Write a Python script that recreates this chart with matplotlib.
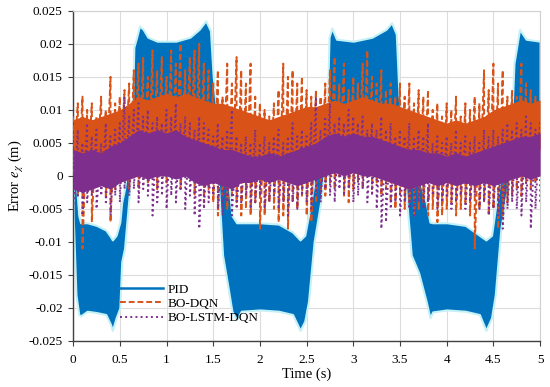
import numpy as np
import matplotlib
matplotlib.use('Agg')
import matplotlib.pyplot as plt
from matplotlib.lines import Line2D
from matplotlib.ticker import FormatStrFormatter

plt.rcParams['font.family'] = ['Liberation Serif', 'DejaVu Serif']
plt.rcParams['mathtext.fontset'] = 'stix'

# PID error band (envelope)
t_pid = [0.00, 0.03, 0.06, 0.08, 0.15, 0.25, 0.35, 0.40, 0.42, 0.46, 0.50, 0.52, 0.55, 0.60, 0.63,
         0.65, 0.68, 0.71, 0.75, 0.80, 0.90, 1.10, 1.25, 1.35, 1.42, 1.47, 1.50, 1.55, 1.60,
         1.66, 1.70, 1.75, 1.80, 2.00, 2.20, 2.35, 2.43, 2.48, 2.52, 2.58, 2.65, 2.72, 2.74,
         2.77, 2.82, 3.00, 3.20, 3.35, 3.41, 3.46, 3.49, 3.55, 3.62, 3.70, 3.78, 3.82, 3.85,
         4.00, 4.20, 4.35, 4.42, 4.48, 4.52, 4.58, 4.65, 4.70, 4.72, 4.78, 4.85, 5.00]
pid_lo = [-0.006, -0.018, -0.0210, -0.0212, -0.0205, -0.0207, -0.0210, -0.0225, -0.0234, -0.0215,
          -0.020, -0.013, -0.011, -0.003, 0.002,
          0.006, 0.007, 0.0075, 0.0075, 0.007, 0.0068, 0.0068, 0.007, 0.0075, 0.008, 0.0075,
          0.005, 0.0, -0.012, -0.017, -0.0205, -0.0218, -0.0205, -0.0203, -0.0205, -0.021,
          -0.0234, -0.022, -0.019, -0.010, -0.004, 0.004, 0.007,
          0.0075, 0.007, 0.0068, 0.007, 0.0075, 0.008, 0.0075, 0.005, 0.0, -0.012, -0.0147,
          -0.019, -0.0215, -0.0206, -0.0203, -0.0205, -0.021, -0.0234, -0.0215, -0.018,
          -0.008, -0.002, 0.003, 0.006, 0.0075, 0.007, 0.007]
pid_hi = [0.004, 0.0, -0.006, -0.0071, -0.0071, -0.0075, -0.0082, -0.0092, -0.0097, -0.009,
          -0.007, -0.004, -0.002, 0.004, 0.008,
          0.0195, 0.021, 0.0227, 0.0222, 0.021, 0.0204, 0.0204, 0.021, 0.0222, 0.0235, 0.022,
          0.015, 0.008, 0.004, 0.0, -0.006, -0.0071, -0.0071, -0.0071, -0.0073, -0.0085,
          -0.0097, -0.009, -0.006, -0.001, 0.004, 0.010, 0.021,
          0.0224, 0.0207, 0.0204, 0.021, 0.0222, 0.0232, 0.0215, 0.012, 0.007, 0.003, 0.0,
          -0.004, -0.007, -0.0071, -0.0071, -0.0075, -0.009, -0.0097, -0.009, -0.005,
          0.0, 0.005, 0.010, 0.017, 0.0222, 0.0207, 0.0204]

# BO-DQN / BO-LSTM-DQN: dense core band every 0.1 s
t_core = np.arange(0, 5.001, 0.1)
dqn_core_lo = [0.002, 0.001, 0.002, 0.003, 0.002, 0.003, 0.003, 0.004, 0.004, 0.005,
               0.004, 0.005, 0.004, 0.004, 0.003, 0.003, 0.002, 0.002, 0.001, 0.001,
               0.000, 0.001, 0.000, 0.001, 0.001, 0.002, 0.002, 0.003, 0.004, 0.004,
               0.003, 0.004, 0.004, 0.003, 0.003, 0.002, 0.002, 0.001, 0.001, 0.000,
               0.001, 0.000, 0.001, 0.000, 0.001, 0.002, 0.002, 0.003, 0.004, 0.004, 0.004]
dqn_core_hi = [0.0085, 0.009, 0.0085, 0.009, 0.0095, 0.010, 0.011, 0.012, 0.0115, 0.012,
               0.0125, 0.012, 0.0125, 0.012, 0.0115, 0.011, 0.011, 0.0105, 0.010, 0.0095,
               0.009, 0.0085, 0.009, 0.0095, 0.010, 0.0105, 0.0105, 0.011, 0.0115, 0.011,
               0.0115, 0.012, 0.0115, 0.011, 0.011, 0.0105, 0.010, 0.0095, 0.009, 0.0085,
               0.008, 0.0085, 0.008, 0.0085, 0.009, 0.010, 0.0105, 0.011, 0.0115, 0.011, 0.0115]
lstm_core_lo = [-0.002, -0.0025, -0.002, -0.0015, -0.002, -0.001, -0.0005, 0.000, -0.0005, 0.000,
                0.000, -0.0005, 0.000, -0.001, -0.0015, -0.001, -0.0015, -0.002, -0.001, -0.001,
                -0.0005, -0.001, -0.0005, -0.001, -0.0015, -0.001, -0.0005, 0.000, 0.0005, 0.000,
                0.0005, 0.000, 0.000, -0.0005, -0.001, -0.0015, -0.002, -0.0015, -0.001, -0.0015,
                -0.001, -0.0015, -0.001, -0.0015, -0.001, -0.0015, -0.001, -0.0005, 0.000, -0.0005, 0.000]
lstm_core_hi = [0.004, 0.0035, 0.004, 0.0035, 0.0045, 0.005, 0.006, 0.007, 0.0065, 0.007,
                0.0065, 0.007, 0.006, 0.0055, 0.005, 0.0045, 0.004, 0.004, 0.0035, 0.003,
                0.003, 0.0035, 0.003, 0.0035, 0.004, 0.0045, 0.005, 0.006, 0.0065, 0.006,
                0.0065, 0.006, 0.006, 0.0055, 0.005, 0.0045, 0.004, 0.004, 0.0035, 0.0035,
                0.003, 0.0035, 0.003, 0.0035, 0.004, 0.0045, 0.005, 0.0055, 0.006, 0.006, 0.0065]

# spike extremes every 0.05 s
t_spk = np.arange(0, 5.001, 0.05)
dqn_hi = [0.009, 0.011, 0.012, 0.010, 0.011, 0.009, 0.012, 0.010, 0.015, 0.011,
          0.012, 0.013, 0.014, 0.016, 0.017, 0.018, 0.015, 0.019, 0.016, 0.018,
          0.015, 0.019, 0.017, 0.020, 0.016, 0.018, 0.019, 0.020, 0.017, 0.016,
          0.014, 0.016, 0.012, 0.017, 0.014, 0.018, 0.016, 0.014, 0.017, 0.012,
          0.011, 0.010, 0.009, 0.011, 0.013, 0.017, 0.015, 0.016, 0.014, 0.015,
          0.013, 0.012, 0.013, 0.012, 0.014, 0.016, 0.018, 0.014, 0.017, 0.013,
          0.015, 0.014, 0.017, 0.019, 0.015, 0.014, 0.016, 0.013, 0.014, 0.012,
          0.014, 0.012, 0.014, 0.011, 0.013, 0.012, 0.013, 0.010, 0.011, 0.009,
          0.011, 0.010, 0.012, 0.009, 0.011, 0.010, 0.012, 0.011, 0.016, 0.013,
          0.017, 0.014, 0.016, 0.012, 0.013, 0.012, 0.017, 0.014, 0.013, 0.012, 0.011]
dqn_lo = [0.000, -0.003, -0.011, -0.002, -0.007, 0.000, -0.001, -0.003, -0.007, -0.002,
          -0.001, 0.000, -0.002, 0.001, -0.002, 0.001, -0.001, 0.002, -0.002, 0.001,
          -0.001, 0.000, 0.001, -0.002, 0.000, 0.001, -0.003, -0.001, -0.004, -0.002,
          -0.004, -0.006, -0.003, -0.005, -0.003, -0.004, -0.006, -0.005, -0.006, -0.004,
          -0.008, -0.006, -0.004, -0.005, -0.007, -0.006, -0.008, -0.004, -0.005, -0.003,
          -0.006, -0.007, -0.004, -0.002, -0.003, -0.001, -0.002, 0.000, -0.003, -0.004,
          -0.002, -0.001, -0.002, 0.000, -0.002, -0.001, -0.003, -0.002, -0.004, -0.005,
          -0.003, -0.005, -0.004, -0.006, -0.005, -0.004, -0.006, -0.005, -0.007, -0.006,
          -0.005, -0.004, -0.006, -0.005, -0.004, -0.006, -0.011, -0.005, -0.004, -0.006,
          -0.005, -0.008, -0.006, -0.004, -0.003, -0.002, -0.003, -0.001, -0.002, -0.001, 0.000]
lstm_hi = [0.006, 0.007, 0.005, 0.008, 0.006, 0.007, 0.005, 0.008, 0.006, 0.007,
           0.008, 0.012, 0.009, 0.010, 0.011, 0.009, 0.010, 0.008, 0.009, 0.008,
           0.010, 0.009, 0.011, 0.008, 0.009, 0.008, 0.007, 0.009, 0.008, 0.007,
           0.006, 0.008, 0.006, 0.007, 0.010, 0.006, 0.005, 0.006, 0.005, 0.007,
           0.005, 0.006, 0.005, 0.006, 0.007, 0.005, 0.006, 0.008, 0.006, 0.007,
           0.006, 0.008, 0.012, 0.007, 0.009, 0.011, 0.008, 0.009, 0.008, 0.010,
           0.009, 0.008, 0.009, 0.007, 0.008, 0.007, 0.009, 0.007, 0.008, 0.006,
           0.007, 0.006, 0.008, 0.006, 0.007, 0.006, 0.008, 0.005, 0.006, 0.005,
           0.006, 0.005, 0.007, 0.005, 0.006, 0.005, 0.006, 0.005, 0.007, 0.006,
           0.007, 0.006, 0.007, 0.008, 0.007, 0.008, 0.007, 0.009, 0.008, 0.007, 0.008]
lstm_lo = [-0.005, -0.003, -0.006, -0.004, -0.003, -0.005, -0.003, -0.004, -0.006, -0.003,
           -0.004, -0.002, -0.003, -0.002, -0.004, -0.002, -0.003, -0.006, -0.004, -0.003,
           -0.005, -0.003, -0.004, -0.002, -0.005, -0.003, -0.006, -0.008, -0.005, -0.004,
           -0.003, -0.005, -0.006, -0.004, -0.006, -0.005, -0.004, -0.003, -0.005, -0.004,
           -0.003, -0.005, -0.004, -0.003, -0.005, -0.004, -0.006, -0.004, -0.005, -0.003,
           -0.004, -0.005, -0.003, -0.004, -0.002, -0.003, -0.004, -0.002, -0.003, -0.002,
           -0.004, -0.003, -0.002, -0.004, -0.003, -0.005, -0.008, -0.007, -0.005, -0.004,
           -0.006, -0.004, -0.005, -0.006, -0.004, -0.005, -0.004, -0.003, -0.005, -0.004,
           -0.003, -0.005, -0.004, -0.003, -0.005, -0.004, -0.003, -0.005, -0.004, -0.006,
           -0.005, -0.006, -0.008, -0.005, -0.004, -0.005, -0.006, -0.004, -0.008, -0.005, -0.004]

c_pid = '#0072BD'
c_dqn = '#D95319'
c_lstm = '#7E2F8E'


def zigzag(t, hi, lo):
    x = np.repeat(t, 2)
    y = np.column_stack([hi, lo]).ravel()
    return x, y


fig = plt.figure(figsize=(5.5, 3.87), dpi=100)
ax = fig.add_axes([0.133, 0.119, 0.849, 0.853])

ax.fill_between(t_pid, pid_lo, pid_hi, facecolor=c_pid, edgecolor='#c4f1f6', lw=1.5, zorder=2)

ax.fill_between(t_core, dqn_core_lo, dqn_core_hi, color=c_dqn, lw=0, zorder=3)
x, y = zigzag(t_spk, dqn_hi, dqn_lo)
h_dqn, = ax.plot(x, y, color=c_dqn, ls=(0, (3, 1.5)), lw=1.4, zorder=3, label='BO-DQN')

ax.fill_between(t_core, lstm_core_lo, lstm_core_hi, color=c_lstm, lw=0, zorder=4)
x, y = zigzag(t_spk, lstm_hi, lstm_lo)
h_lstm, = ax.plot(x, y, color=c_lstm, ls=':', lw=1.4, zorder=4, label='BO-LSTM-DQN')

h_pid = Line2D([], [], color=c_pid, lw=1.8, label='PID')

ax.set_xlim(0, 5)
ax.set_ylim(-0.025, 0.025)
ax.set_xticks(np.arange(0, 5.01, 0.5))
ax.set_yticks(np.arange(-0.025, 0.0251, 0.005))
ax.xaxis.set_major_formatter(FormatStrFormatter('%g'))
ax.yaxis.set_major_formatter(plt.FuncFormatter(lambda v, p: '%g' % round(v, 3)))
ax.tick_params(direction='out', labelsize=9.5, length=3.5, width=0.8, color='#404040', pad=4)
ax.tick_params(axis='x', pad=6)
ax.grid(True, color='#dcdcdc', lw=0.8, zorder=0)
ax.set_axisbelow(True)
for s in ['top', 'right']:
    ax.spines[s].set_color('#d0d0d0')
for s in ['left', 'bottom']:
    ax.spines[s].set_color('#404040')
    ax.spines[s].set_linewidth(1.0)

ax.set_xlabel('Time (s)', fontsize=10.5, labelpad=1)
ax.set_ylabel(r'Error $e_\chi$ (m)', fontsize=10.5, labelpad=2)

ax.legend(handles=[h_pid, h_dqn, h_lstm], loc='upper left', bbox_to_anchor=(0.09, 0.19),
          frameon=False, fontsize=9.5, handlelength=3.2, handletextpad=0.4,
          labelspacing=0.15, borderaxespad=0)

fig.savefig('out.png', dpi=100)
